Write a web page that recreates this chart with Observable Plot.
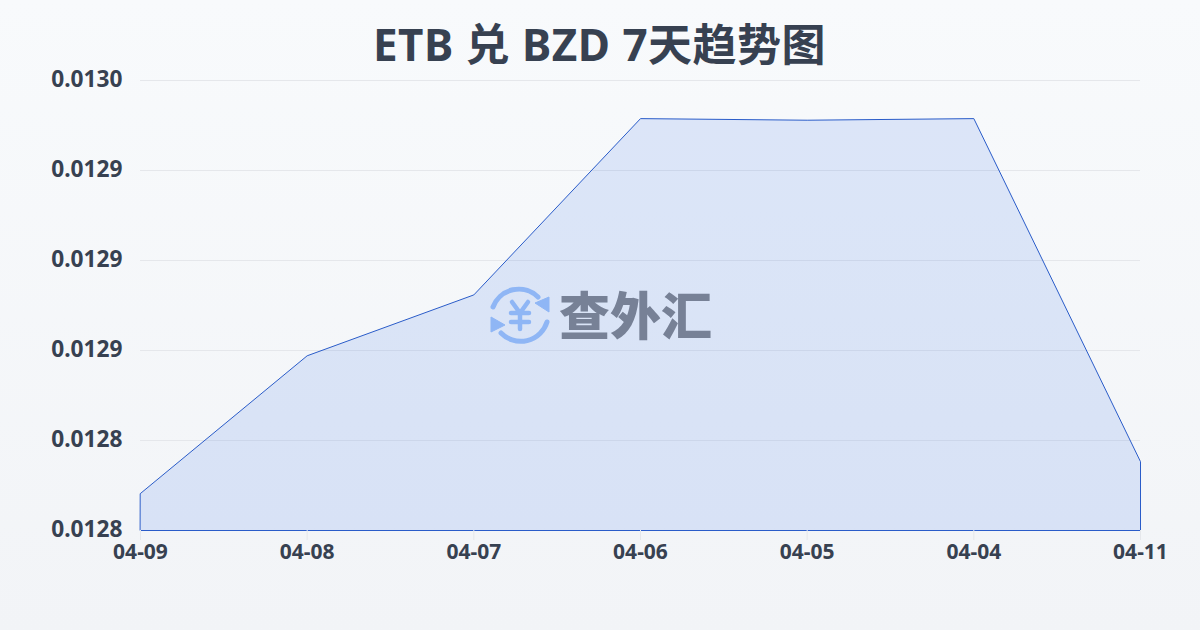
<!DOCTYPE html>
<html><head><meta charset="utf-8">
<script src="https://cdn.jsdelivr.net/npm/d3@7"></script>
<script src="https://cdn.jsdelivr.net/npm/@observablehq/plot@0.6"></script>
<style>
html,body{margin:0;padding:0}
#page{position:relative;width:1200px;height:630px;overflow:hidden;background:linear-gradient(180deg,#f8fafc,#f2f4f7);}
#title{height:70px;text-align:center;font:700 44px/88px "Noto Sans","Noto Sans CJK SC",sans-serif;letter-spacing:.5px;color:#374151;white-space:nowrap;margin-left:-1px}
#logo{position:absolute;left:488px;top:284px;width:64px;height:64px}
#wm{position:absolute;left:559px;top:280px;font:900 51px/66px "Noto Sans CJK SC",sans-serif;color:#778196;white-space:nowrap}
svg.plot{display:block;background:transparent;overflow:visible}
</style></head><body>
<div id="page"><div id="title">ETB 兑 BZD 7天趋势图</div><div id="chart"></div>
<svg id="logo" viewBox="0 0 64 64" fill="none">
<path d="M5 23A27.500 27.500 0 0 1 50 13" stroke="#8fb6f5" stroke-width="5" stroke-linecap="round"/>
<path d="M61 28 L61 13 L47 19Z" fill="#8fb6f5" stroke="#8fb6f5" stroke-linejoin="round"/>
<path d="M59 38A27.500 27.500 0 0 1 13 49" stroke="#8fb6f5" stroke-width="5" stroke-linecap="round"/>
<path d="M3 33 L3 48 L17 41Z" fill="#8fb6f5" stroke="#8fb6f5" stroke-linejoin="round"/>
<path d="M24 18L32 29L40 18M23 29H41M23 38H41M32 29V45" stroke="#8fb6f5" stroke-width="4.500" stroke-linecap="round"/>
</svg>
<div id="wm">查外汇</div></div>
<script>
const dates = ["04-09","04-08","04-07","04-06","04-05","04-04","04-11"];
const rates = [0.012804,0.012856,0.012879,0.0129456,0.012945,0.0129456,0.012816];
const yTicks = [0.01279,0.012824,0.012858,0.012892,0.012926,0.01296];
const data = dates.map((d,i)=>({d,v:rates[i]}));
const chart = Plot.plot({
  width:1200,height:490,marginLeft:140,marginRight:60,marginTop:10,marginBottom:30,
  style:{background:"transparent",fontFamily:"'Noto Sans',sans-serif",color:"#374151",overflow:"visible"},
  x:{type:"point",domain:dates,padding:0,round:false,label:null},
  y:{domain:[0.01279,0.01296],label:null},
  marks:[
    Plot.ruleY(yTicks,{stroke:"#e5e7eb",strokeWidth:1}),
    Plot.areaY(data,{x:"d",y1:()=>0.01279,y2:"v",dx:0.5,dy:0.5,fill:"#2563eb",fillOpacity:0.13,stroke:"#2a5cc9",strokeWidth:1,curve:"linear"}),
    Plot.axisY({ticks:yTicks,tickFormat:v=>v.toFixed(4),tickSize:0,tickPadding:18,fontSize:22.7,fontWeight:700,fill:"#374151",dy:-1}),
    Plot.axisX({tickSize:10,stroke:"#e5e7eb",tickPadding:4,fontSize:21,fontWeight:700,fill:"#374151"})
  ]
});
document.getElementById("chart").append(chart);
</script></body></html>
